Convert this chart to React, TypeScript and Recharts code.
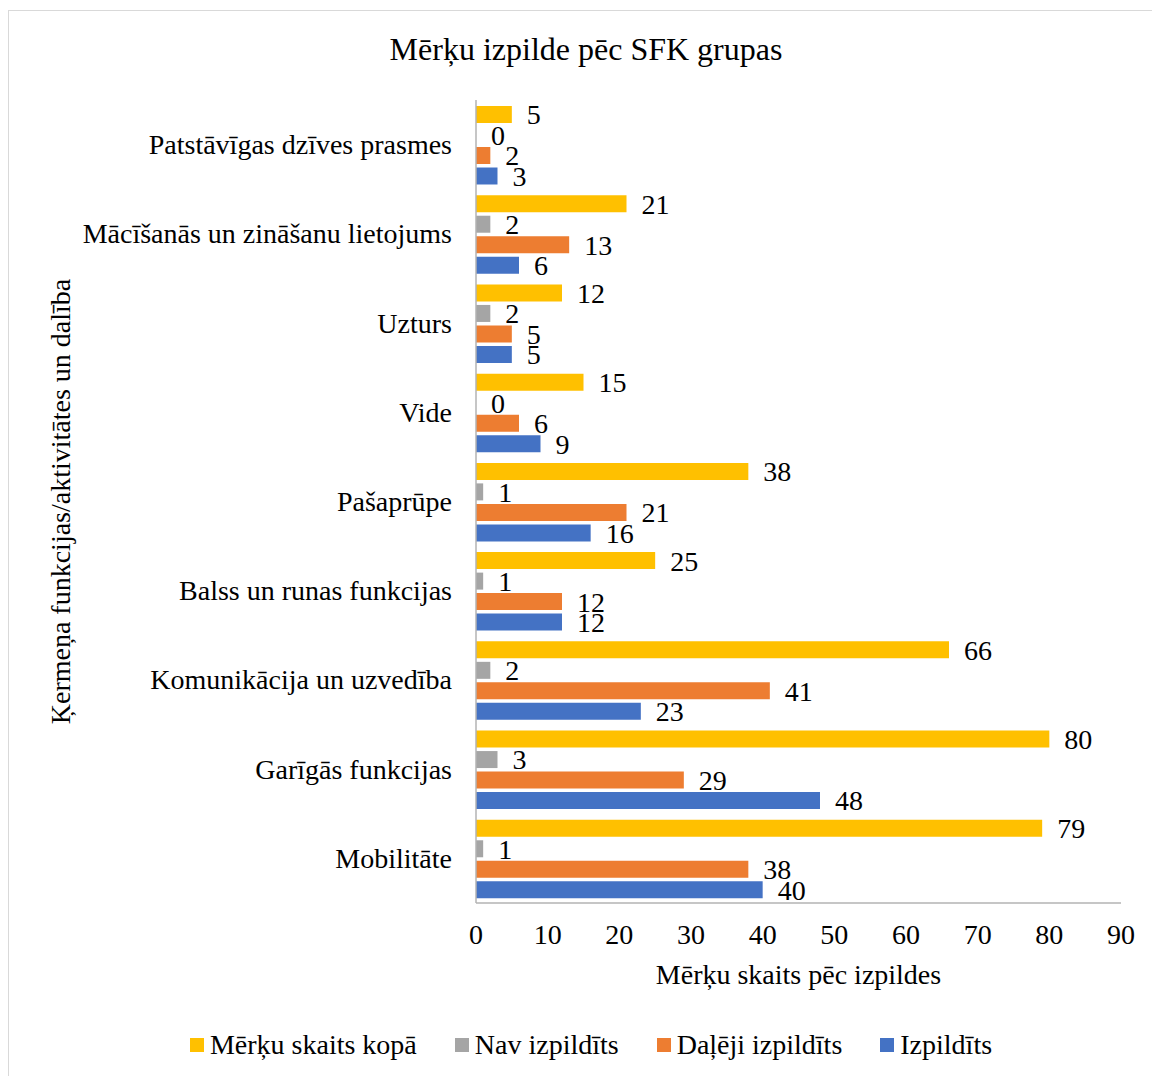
import * as React from "react";
import { Bar, BarChart, LabelList, Legend, XAxis, YAxis } from "recharts";

const CATEGORIES = [
  "Patstāvīgas dzīves prasmes",
  "Mācīšanās un zināšanu lietojums",
  "Uzturs",
  "Vide",
  "Pašaprūpe",
  "Balss un runas funkcijas",
  "Komunikācija un uzvedība",
  "Garīgās funkcijas",
  "Mobilitāte"
];
const TOTAL = [5, 21, 12, 15, 38, 25, 66, 80, 79];
const NOT_DONE = [0, 2, 2, 0, 1, 1, 2, 3, 1];
const PARTIAL = [2, 13, 5, 6, 21, 12, 41, 29, 38];
const DONE = [3, 6, 5, 9, 16, 12, 23, 48, 40];
const X_TICKS = [0, 10, 20, 30, 40, 50, 60, 70, 80, 90];

const SERIES = [
  { key: "total", label: "Mērķu skaits kopā", color: "#FFC000" },
  { key: "notDone", label: "Nav izpildīts", color: "#A5A5A5" },
  { key: "partial", label: "Daļēji izpildīts", color: "#ED7D31" },
  { key: "done", label: "Izpildīts", color: "#4472C4" }
];

const data = CATEGORIES.map((name, i) => ({
  name,
  total: TOTAL[i],
  notDone: NOT_DONE[i],
  partial: PARTIAL[i],
  done: DONE[i]
}));

const FONT = '"Liberation Serif", "Times New Roman", serif';
const AXIS_STROKE = "#b3b3b3";
const W = 1152;
const H = 1076;

function CategoryTick(props: any) {
  const { x, y, payload } = props;
  return (
    <text x={x - 16} y={y} dy="0.34em" textAnchor="end" fontFamily={FONT} fontSize={28} fill="#000">
      {payload.value}
    </text>
  );
}

function ValueTick(props: any) {
  const { x, y, payload } = props;
  return (
    <text x={x} y={y + 33} textAnchor="middle" fontFamily={FONT} fontSize={28} fill="#000">
      {payload.value}
    </text>
  );
}

function LegendBox() {
  return (
    <div
      style={{
        display: "flex",
        justifyContent: "center",
        gap: 38,
        paddingLeft: 30,
        fontFamily: FONT,
        fontSize: 28,
        color: "#000"
      }}
    >
      {SERIES.map((s) => (
        <div key={s.key} style={{ display: "flex", alignItems: "center", gap: 6 }}>
          <span style={{ width: 14, height: 14, background: s.color, display: "inline-block" }} />
          <span>{s.label}</span>
        </div>
      ))}
    </div>
  );
}

export default function App() {
  return (
    <div style={{ position: "absolute", left: 0, top: 0, width: W, height: H, overflow: "hidden" }}>
      <div
        style={{
          position: "absolute",
          left: 8,
          top: 10,
          width: W - 8,
          height: H - 10,
          borderTop: "1px solid #d9d9d9",
          borderLeft: "1px solid #d9d9d9",
          boxSizing: "border-box"
        }}
      />
      <BarChart
        width={W}
        height={H}
        data={data}
        layout="vertical"
        margin={{ top: 100, right: 31, left: 76, bottom: 113 }}
        barCategoryGap={6}
        barGap={3.5}
      >
        <text x={586} y={60} textAnchor="middle" fontFamily={FONT} fontSize={32} fill="#000">
          Mērķu izpilde pēc SFK grupas
        </text>
        <XAxis
          type="number"
          domain={[0, 90]}
          ticks={X_TICKS}
          interval={0}
          height={60}
          tickLine={false}
          axisLine={{ stroke: AXIS_STROKE, strokeWidth: 1.5 }}
          tick={<ValueTick />}
          label={{
            content: (p: any) => {
              const vb = p.viewBox;
              return (
                <text
                  x={vb.x + vb.width / 2}
                  y={vb.y + 81}
                  textAnchor="middle"
                  fontFamily={FONT}
                  fontSize={28}
                  fill="#000"
                >
                  Mērķu skaits pēc izpildes
                </text>
              );
            }
          }}
        />
        <YAxis
          type="category"
          dataKey="name"
          width={400}
          interval={0}
          tickLine={false}
          axisLine={{ stroke: AXIS_STROKE, strokeWidth: 1.5 }}
          tick={<CategoryTick />}
          label={{
            content: (p: any) => {
              const vb = p.viewBox;
              const cx = vb.x - 16;
              const cy = vb.y + vb.height / 2;
              return (
                <text
                  x={cx}
                  y={cy}
                  dy="0.34em"
                  textAnchor="middle"
                  transform={`rotate(-90 ${cx} ${cy})`}
                  fontFamily={FONT}
                  fontSize={28}
                  fill="#000"
                >
                  Ķermeņa funkcijas/aktivitātes un dalība
                </text>
              );
            }
          }}
        />
        <Legend
          layout="horizontal"
          verticalAlign="middle"
          align="center"
          wrapperStyle={{ top: 1029, left: 0, width: W }}
          content={() => <LegendBox />}
        />
        {SERIES.map((s) => (
          <Bar
            key={s.key}
            dataKey={s.key}
            name={s.label}
            fill={s.color}
            minPointSize={0.01}
            isAnimationActive={false}
          >
            <LabelList
              dataKey={s.key}
              position="right"
              offset={15}
              fontFamily={FONT}
              fontSize={28}
              fill="#000"
            />
          </Bar>
        ))}
      </BarChart>
    </div>
  );
}
